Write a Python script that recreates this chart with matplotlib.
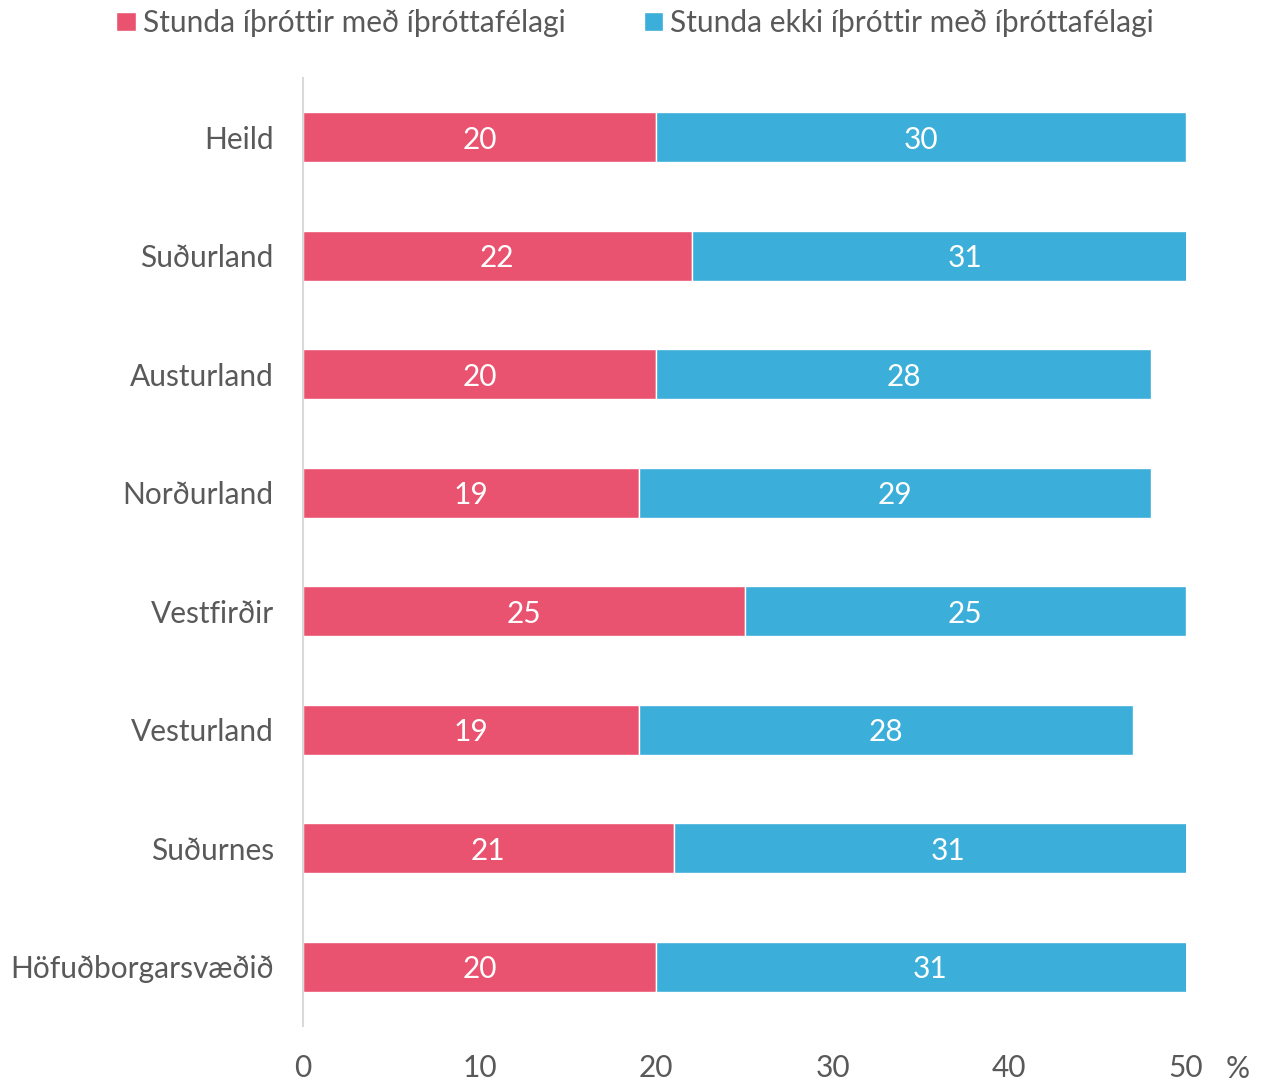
import matplotlib
matplotlib.use('Agg')
import matplotlib.pyplot as plt
import numpy as np

# Gögn
categories = ['Heild', 'Suðurland', 'Austurland', 'Norðurland', 'Vestfirðir',
              'Vesturland', 'Suðurnes', 'Höfuðborgarsvæðið']
with_club = [20, 22, 20, 19, 25, 19, 21, 20]
without_club = [30, 31, 28, 29, 25, 28, 31, 31]
series_names = ['Stunda íþróttir með íþróttafélagi', 'Stunda ekki íþróttir með íþróttafélagi']
x_ticks = [0, 10, 20, 30, 40, 50]

RED = '#EA5370'
BLUE = '#3BAED9'
GREY = '#595959'
FS = 21.5

plt.rcParams['font.family'] = ['Lato', 'DejaVu Sans']

fig = plt.figure(figsize=(12.63, 10.84), dpi=100)
ax = fig.add_axes([303 / 1263, 1 - 1026 / 1084, (1186 - 303) / 1263, 948 / 1084])

y = np.arange(len(categories))
b1 = ax.barh(y, with_club, height=0.42, color=RED, edgecolor='white', linewidth=1,
             label=series_names[0])
b2 = ax.barh(y, without_club, left=with_club, height=0.42, color=BLUE, edgecolor='white',
             linewidth=1, label=series_names[1])

for i in range(len(categories)):
    ax.text(with_club[i] / 2, y[i], str(with_club[i]), ha='center', va='center_baseline',
            color='white', fontsize=FS)
    ax.text(with_club[i] + without_club[i] / 2, y[i], str(without_club[i]), ha='center',
            va='center_baseline', color='white', fontsize=FS)

ax.set_xlim(0, 50)
ax.set_ylim(len(categories) - 0.5, -0.5)
ax.set_yticks(y)
ax.set_yticklabels(categories)
ax.set_xticks(x_ticks)
ax.tick_params(axis='both', length=0, labelsize=FS, colors=GREY)
ax.tick_params(axis='y', pad=21)
ax.tick_params(axis='x', pad=20)
for s in ['top', 'right', 'bottom']:
    ax.spines[s].set_visible(False)
ax.spines['left'].set_color('#D9D9D9')
ax.spines['left'].set_linewidth(1.5)

fig.text(1238 / 1263, 1 - 1069 / 1084, '%', ha='center', va='center', fontsize=FS, color=GREY)

leg = fig.legend(handles=[b1, b2], loc='center', bbox_to_anchor=(0.503, 1 - 23 / 1084),
                 ncol=2, frameon=False, fontsize=FS, handlelength=0.65, handleheight=0.65,
                 handletextpad=0.25, columnspacing=2.6)
for t in leg.get_texts():
    t.set_color(GREY)

fig.savefig('out.png', dpi=100)
